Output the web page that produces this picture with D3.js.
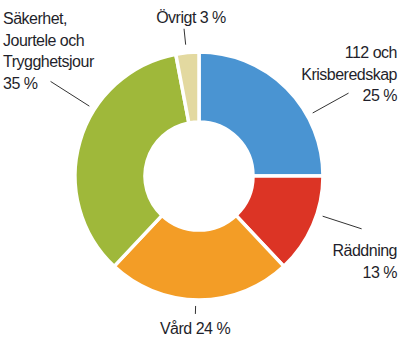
<!DOCTYPE html>
<html>
<head>
<meta charset="utf-8">
<script src="https://cdn.jsdelivr.net/npm/d3@7"></script>
<style>
  html, body { margin: 0; padding: 0; background: #fff; }
  svg { display: block; }
  text { font-family: "Liberation Sans", Arial, sans-serif; font-size: 16px; letter-spacing: -0.5px; fill: #1f1f2b; }
</style>
</head>
<body>
<svg id="chart" width="407" height="350"></svg>
<script>
// Data
const categories = ["112 och Krisberedskap", "Räddning", "Vård", "Säkerhet, Jourtele och Trygghetsjour", "Övrigt"];
const values = [25, 13, 24, 35, 3];
const colors = ["#4a94d2", "#dc3425", "#f39d26", "#9fb83a", "#e3d9a0"];
const labelLines = [
  ["112 och", "Krisberedskap", "25 %"],
  ["Räddning", "13 %"],
  ["Vård 24 %"],
  ["Säkerhet,", "Jourtele och", "Trygghetsjour", "35 %"],
  ["Övrigt 3 %"]
];

// Layout
const W = 407, H = 350;
const cx = 199, cy = 176, outerR = 124, innerR = 54;
const labelLayout = [
  { x: 397, y: 58, anchor: "end" },
  { x: 397, y: 256, anchor: "end" },
  { x: 195, y: 334, anchor: "middle" },
  { x: 3, y: 24, anchor: "start" },
  { x: 191, y: 23, anchor: "middle" }
];
const lineHeight = 21.7;
// leader: angle (deg, clockwise from 12 o'clock), inner radius, outer radius
const leaders = [
  { a: 61, r0: 130, r1: 171 },
  { a: 108, r0: 130, r1: 171 },
  { a: 181.5, r0: 130, r1: 138 },
  { a: 302.5, r0: 130, r1: 176 },
  { a: 354.2, r0: 132, r1: 148 }
];

const svg = d3.select("#chart");
const g = svg.append("g").attr("transform", `translate(${cx},${cy})`);

const pie = d3.pie().sort(null).value(d => d)(values);
const arc = d3.arc().innerRadius(innerR).outerRadius(outerR);

g.selectAll("path.slice")
  .data(pie)
  .join("path")
  .attr("class", "slice")
  .attr("d", arc)
  .attr("fill", (d, i) => colors[i])
  .attr("stroke", "#fff")
  .attr("stroke-width", 3.5)
  .attr("stroke-linejoin", "miter");

const rad = Math.PI / 180;
g.selectAll("line.leader")
  .data(leaders)
  .join("line")
  .attr("class", "leader")
  .attr("x1", d => d3.pointRadial(d.a * rad, d.r0)[0])
  .attr("y1", d => d3.pointRadial(d.a * rad, d.r0)[1])
  .attr("x2", d => d3.pointRadial(d.a * rad, d.r1)[0])
  .attr("y2", d => d3.pointRadial(d.a * rad, d.r1)[1])
  .attr("stroke", "#333")
  .attr("stroke-width", 1);

const labels = svg.selectAll("text.label")
  .data(categories)
  .join("text")
  .attr("class", "label")
  .attr("text-anchor", (d, i) => labelLayout[i].anchor)
  .attr("x", (d, i) => labelLayout[i].x)
  .attr("y", (d, i) => labelLayout[i].y);

labels.each(function (d, i) {
  d3.select(this).selectAll("tspan")
    .data(labelLines[i])
    .join("tspan")
    .attr("x", labelLayout[i].x)
    .attr("dy", (t, j) => j === 0 ? 0 : lineHeight)
    .text(t => t);
});
</script>
</body>
</html>
